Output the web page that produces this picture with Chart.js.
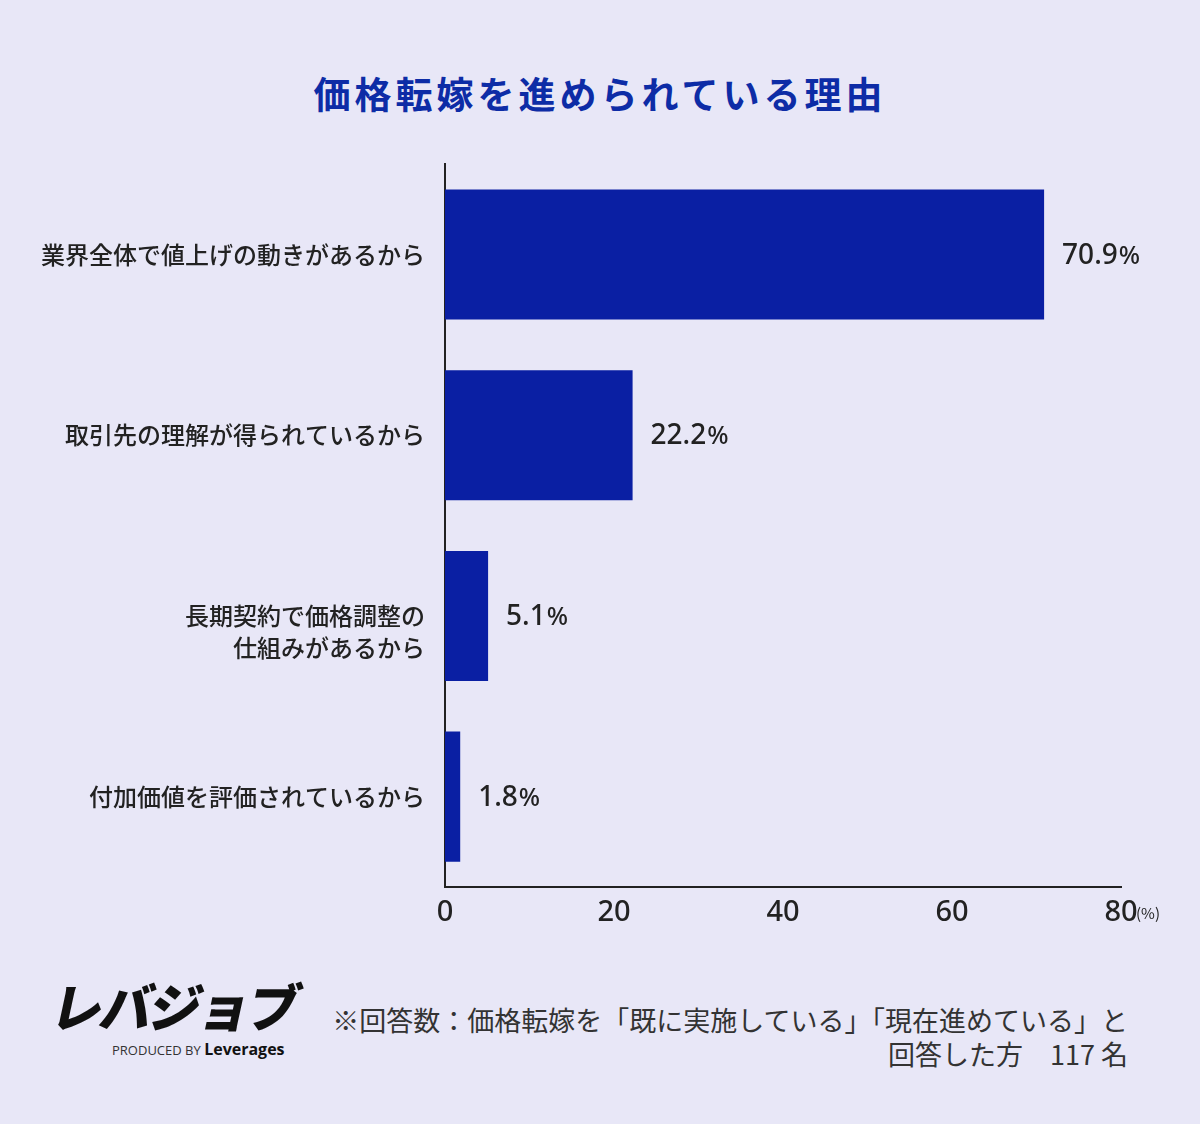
<!DOCTYPE html>
<html lang="ja">
<head>
<meta charset="utf-8">
<script src="https://cdn.jsdelivr.net/npm/chart.js@4"></script>
<style>
  html, body { margin: 0; padding: 0; }
  body {
    width: 1200px; height: 1124px; position: relative; overflow: hidden;
    background: #e8e7f7;
    font-family: "Noto Sans CJK JP", "Noto Sans", sans-serif;
  }
  #title {
    position: absolute; left: 0; top: 66px; width: 1200px; text-align: center;
    font-size: 37px; font-weight: 700; color: #0d2ca6; letter-spacing: 4px;
  }
  #chartBox { position: absolute; left: 0; top: 128px; width: 1200px; height: 812px; }
  #unit { position: absolute; left: 1136px; top: 902px; font-size: 15px; color: #222; }
  #logo { position: absolute; left: 46px; top: 972px; }
  #logo .mark {
    font-size: 52px; font-weight: 900; color: #111; letter-spacing: -3px;
    transform: skewX(-12deg); transform-origin: left bottom; line-height: 66px;
  }
  #logo .by { margin-left: 66px; margin-top: 0px; font-size: 13px; color: #333; font-family: "Open Sans", sans-serif; }
  #logo .by b { font-size: 16px; color: #111; }
  #note {
    position: absolute; right: 72px; top: 1003px; text-align: right;
    font-size: 27px; line-height: 34px; color: #333;
  }
</style>
</head>
<body>
<div id="title">価格転嫁を進められている理由</div>
<div id="chartBox"><canvas id="reasonChart"></canvas></div>
<div id="unit">(%)</div>
<div id="logo">
  <div class="mark">レバジョブ</div>
  <div class="by">PRODUCED BY <b>Leverages</b></div>
</div>
<div id="note">※回答数：価格転嫁を「既に実施している」「現在進めている」と<br>回答した方　117 名</div>
<script>
const labels = [
  "業界全体で値上げの動きがあるから",
  "取引先の理解が得られているから",
  ["", "長期契約で価格調整の", "仕組みがあるから"],  // empty first line keeps the text below bar centre
  "付加価値を評価されているから"
];
const values = [70.9, 22.2, 5.1, 1.8];
const xTicks = [0, 20, 40, 60, 80];

const barColor = "#0a1fa3";
const textColor = "#222";

// value labels next to each bar, with a smaller % sign
const valueLabels = {
  id: "valueLabels",
  afterDatasetsDraw(chart) {
    const ctx = chart.ctx;
    const meta = chart.getDatasetMeta(0);
    ctx.save();
    ctx.fillStyle = textColor;
    ctx.textBaseline = "middle";
    meta.data.forEach((bar, i) => {
      const num = values[i].toFixed(1);
      let x = bar.x + 18;
      ctx.font = '500 28px "Noto Sans", "Noto Sans CJK JP", sans-serif';
      ctx.fillText(num, x, bar.y + 1);
      x += ctx.measureText(num).width + 1;
      ctx.font = '500 25px "Noto Sans", "Noto Sans CJK JP", sans-serif';
      ctx.fillText("%", x, bar.y + 2);
    });
    ctx.restore();
  }
};

document.addEventListener("DOMContentLoaded", () => {
  const ctx = document.getElementById("reasonChart").getContext("2d");
  new Chart(ctx, {
    type: "bar",
    data: {
      labels: labels,
      datasets: [{
        data: values,
        backgroundColor: barColor,
        borderWidth: 0,
        barPercentage: 0.72,
        categoryPercentage: 1
      }]
    },
    plugins: [valueLabels],
    options: {
      indexAxis: "y",
      responsive: true,
      maintainAspectRatio: false,
      animation: false,
      layout: { padding: { top: 11, right: 79, bottom: 0, left: 0 } },
      plugins: { legend: { display: false }, tooltip: { enabled: false } },
      scales: {
        x: {
          min: 0, max: 80,
          afterBuildTicks(axis) { axis.ticks = xTicks.map(v => ({ value: v })); },
          afterFit(axis) { axis.height = 53; },
          grid: { display: false, drawTicks: false },
          border: { display: true, color: textColor, width: 2 },
          ticks: {
            color: textColor, padding: 8,
            font: { family: '"Noto Sans", sans-serif', size: 29, weight: 500 }
          }
        },
        y: {
          afterFit(axis) { axis.width = 445; },
          grid: { display: false, drawTicks: false },
          border: { display: true, color: textColor, width: 2 },
          ticks: {
            color: textColor, padding: 20,
            font: { family: '"Noto Sans CJK JP", sans-serif', size: 24, weight: 500, lineHeight: 1.35 }
          }
        }
      }
    }
  });
});
</script>
</body>
</html>
